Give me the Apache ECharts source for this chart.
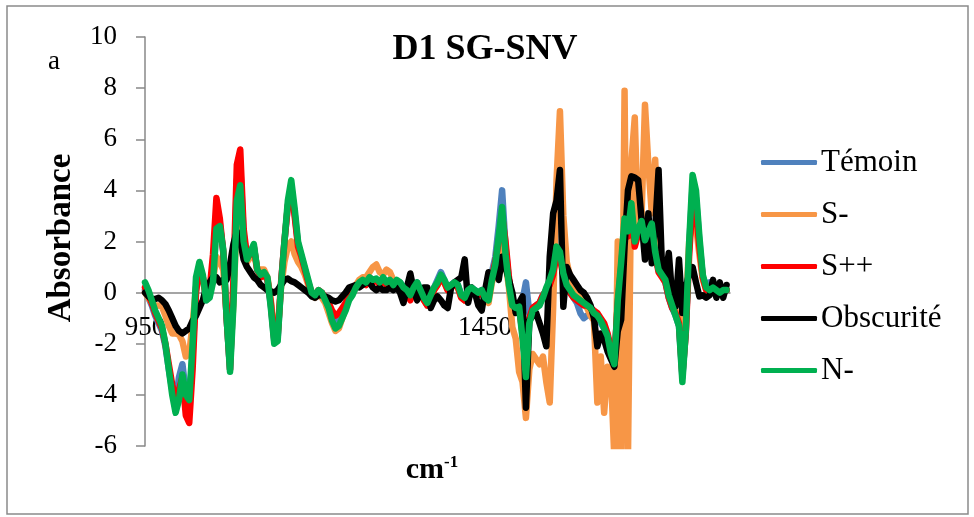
<!DOCTYPE html>
<html>
<head>
<meta charset="utf-8">
<script src="https://cdn.jsdelivr.net/npm/echarts@6/dist/echarts.min.js"></script>
<style>html,body{margin:0;padding:0;background:#fff;}#c{width:974px;height:517px;}</style>
</head>
<body>
<div id="c"></div>
<script>
const wavenumbers = [
950,955,960,965,970,975,980,985,990,995,
1000,1005,1010,1015,1020,1025,1030,1035,1040,1045,
1050,1055,1060,1065,1070,1075,1080,1085,1090,1095,
1100,1105,1110,1115,1120,1125,1130,1135,1140,1145,
1150,1155,1160,1165,1170,1175,1180,1185,1190,1195,
1200,1205,1210,1215,1220,1225,1230,1235,1240,1245,
1250,1255,1260,1265,1270,1275,1280,1285,1290,1295,
1300,1305,1310,1315,1320,1325,1330,1335,1340,1345,
1350,1355,1360,1365,1370,1375,1380,1385,1390,1395,
1400,1405,1410,1415,1420,1425,1430,1435,1440,1445,
1450,1455,1460,1465,1470,1475,1480,1485,1490,1495,
1500,1505,1510,1515,1520,1525,1530,1535,1540,1545,
1550,1555,1560,1565,1570,1575,1580,1585,1590,1595,
1600,1605,1610,1615,1620,1625,1630,1635,1640,1645,
1650,1655,1660,1665,1670,1675,1680,1685,1690,1695,
1700,1705,1710,1715,1720,1725,1730,1735,1740,1745,
1750,1755,1760,1765,1770,1775,1780,1785,1790,1795,
1800,1805];

const temoin = [
0.1,-0.2,-0.5,-0.9,-1.2,-1.5,-2.1,-3.0,-3.8,-4.3,
-3.3,-2.8,-3.9,-4.3,-2.4,0.2,1.1,0.6,-0.3,0.0,
1.0,3.2,2.7,1.6,-1.0,-3.0,0.0,4.4,5.0,2.3,
1.3,1.5,1.8,0.9,0.7,0.8,0.5,-0.5,-1.9,-1.8,
0.3,2.0,3.4,4.1,3.1,1.9,1.4,0.9,0.4,-0.1,
-0.2,0.0,0.0,-0.3,-0.5,-0.9,-1.1,-1.0,-0.8,-0.5,
-0.2,0.0,0.2,0.4,0.5,0.4,0.6,0.5,0.5,0.4,
0.5,0.4,0.5,0.3,0.4,0.4,0.2,0.0,-0.2,0.2,
0.4,0.1,-0.2,-0.5,-0.2,0.2,0.5,0.8,0.5,0.2,
0.3,0.4,0.3,-0.1,-0.2,0.1,0.2,0.1,0.0,0.1,
0.0,-0.1,0.8,1.4,2.6,4.0,1.8,0.5,-0.4,-0.5,
-0.5,-0.3,0.4,-0.8,-0.6,-0.5,-0.4,-0.1,0.1,0.4,
0.8,1.6,1.5,0.7,0.2,0.0,-0.2,-0.4,-0.8,-1.0,
-0.9,-0.8,-0.9,-1.0,-1.2,-1.4,-1.7,-2.3,-2.7,-0.4,
1.1,2.7,2.3,3.3,1.9,2.4,2.6,2.0,2.3,2.6,
1.5,0.9,0.7,0.4,-0.2,-0.6,-0.9,-1.3,-3.3,-1.5,
1.8,4.2,3.7,2.0,0.6,0.3,0.4,0.3,0.2,0.1,
0.1,0.1];

const sMinus = [
0.0,-0.2,-0.4,-0.5,-0.5,-0.55,-0.9,-1.3,-1.6,-1.6,
-1.65,-1.9,-2.5,-2.4,-1.2,0.2,0.9,0.5,-0.2,0.0,
0.5,1.4,1.2,0.9,-0.8,-2.6,-0.4,3.0,3.4,1.8,
1.2,1.4,1.6,0.9,0.9,0.9,0.6,-0.3,-1.5,-1.6,
0.2,1.2,1.8,2.0,1.5,1.2,1.0,0.7,0.3,0.0,
-0.2,-0.1,-0.2,-0.4,-0.8,-1.2,-1.5,-1.4,-1.0,-0.6,
-0.2,0.0,0.3,0.5,0.6,0.6,0.8,1.0,1.1,0.8,
0.7,0.9,0.8,0.5,0.4,0.3,0.1,-0.1,-0.2,0.1,
0.3,0.0,-0.3,-0.5,-0.2,0.1,0.3,0.5,0.4,0.1,
0.2,0.3,0.2,-0.2,-0.3,0.0,0.1,0.0,-0.1,0.0,
-0.3,-0.4,0.4,0.8,1.6,2.6,1.2,0.2,-1.35,-1.8,
-3.1,-3.5,-4.9,-3.0,-2.4,-2.6,-2.8,-2.5,-3.5,-4.3,
-0.6,4.4,7.1,3.0,1.2,0.6,0.2,0.0,-0.2,-0.3,
-0.6,-0.9,-1.1,-4.3,-2.5,-4.7,-2.9,-3.2,-6.5,2.0,
-6.5,7.9,-6.5,5.1,6.85,2.4,3.0,7.35,5.0,3.1,
5.2,1.8,0.9,0.6,0.1,-0.4,-0.7,-1.0,-2.5,-0.8,
2.0,3.0,2.6,1.5,0.5,0.1,0.0,0.2,0.0,0.1,
0.2,0.1];

const sPlusPlus = [
0.2,-0.1,-0.4,-0.8,-1.1,-1.4,-2.0,-2.8,-3.6,-4.2,
-3.8,-3.3,-4.8,-5.1,-3.0,0.0,1.0,0.6,-0.2,0.1,
1.5,3.7,2.9,1.6,-1.0,-3.0,0.5,5.0,5.6,2.5,
1.4,1.5,1.8,0.9,0.6,0.7,0.5,-0.4,-1.8,-1.7,
0.4,2.0,3.4,4.2,3.0,1.8,1.4,0.9,0.4,0.0,
-0.1,0.1,0.0,-0.2,-0.4,-0.7,-0.9,-0.8,-0.6,-0.4,
-0.1,0.0,0.2,0.3,0.4,0.3,0.5,0.4,0.5,0.3,
0.5,0.3,0.4,0.2,0.4,0.3,0.1,0.0,-0.3,0.1,
0.3,0.0,-0.3,-0.5,-0.2,0.1,0.3,0.6,0.4,0.1,
0.2,0.3,0.2,-0.2,-0.3,0.0,0.1,0.0,-0.1,0.0,
-0.1,-0.2,0.6,1.2,2.0,3.0,2.0,0.6,-0.3,-0.5,
-0.6,-1.6,-3.0,-1.0,-0.6,-0.5,-0.4,-0.1,0.1,0.3,
0.7,1.5,1.4,0.6,0.2,0.0,-0.2,-0.3,-0.4,-0.5,
-0.5,-0.6,-0.7,-0.8,-1.0,-1.2,-1.6,-2.2,-2.6,-0.4,
1.0,2.6,2.2,3.2,1.8,2.3,2.6,1.9,2.2,2.5,
1.5,0.8,0.6,0.4,-0.2,-0.6,-0.8,-1.2,-3.2,-1.6,
1.5,3.6,3.2,1.8,0.6,0.1,0.1,0.2,0.1,0.0,
0.1,0.1];

const obscurite = [
0.0,-0.15,-0.25,-0.25,-0.2,-0.3,-0.45,-0.7,-1.0,-1.3,
-1.5,-1.6,-1.5,-1.4,-1.1,-0.9,-0.6,-0.3,0.2,0.4,
0.6,0.6,0.4,0.5,0.5,1.1,1.9,2.4,2.0,1.3,
1.0,0.8,0.6,0.5,0.3,0.2,0.1,0.05,0.0,0.1,
0.3,0.5,0.55,0.45,0.4,0.3,0.2,0.1,0.0,-0.15,
-0.2,-0.1,-0.1,-0.15,-0.2,-0.3,-0.35,-0.3,-0.15,0.0,
0.2,0.25,0.3,0.2,0.3,0.4,0.4,0.2,0.1,0.2,
0.1,0.1,0.2,0.1,0.2,0.0,-0.4,0.2,0.75,0.1,
-0.3,0.0,0.2,0.2,-0.6,-0.3,-0.15,-0.3,-0.5,-0.6,
0.2,0.4,0.5,0.6,1.3,-0.4,0.2,0.0,-0.5,-0.7,
0.1,0.8,0.6,0.9,0.5,1.4,1.0,0.5,0.0,-0.8,
-0.4,-0.15,-4.5,-1.1,-0.9,-0.8,-1.2,-1.6,-2.1,1.4,
3.1,3.6,4.8,-0.55,1.0,0.7,0.5,0.3,0.1,0.0,
-0.2,-0.5,-1.0,-2.1,-1.6,-1.85,-2.3,-2.6,-2.9,-1.5,
-1.05,1.8,4.0,4.55,4.5,4.4,2.85,1.3,3.1,1.15,
2.5,4.8,1.0,0.6,1.55,-0.15,-0.55,1.3,-0.8,0.2,
0.75,1.0,0.4,-0.15,-0.1,-0.2,-0.1,0.5,-0.2,0.4,
-0.2,0.3];

const nMinus = [
0.4,0.1,-0.3,-0.7,-1.0,-1.3,-2.0,-3.0,-4.0,-4.7,
-4.2,-3.2,-4.0,-4.2,-2.0,0.6,1.2,0.7,-0.3,-0.2,
0.4,2.5,2.6,1.7,-1.0,-3.1,-0.5,3.6,4.2,2.0,
1.3,1.6,1.9,0.9,0.7,0.8,0.6,-0.6,-2.0,-1.9,
0.3,2.0,3.6,4.4,3.3,2.0,1.5,1.0,0.5,0.0,
-0.1,0.1,0.0,-0.3,-0.6,-1.1,-1.4,-1.3,-1.0,-0.7,
-0.3,-0.1,0.2,0.4,0.5,0.4,0.6,0.5,0.55,0.4,
0.6,0.4,0.5,0.3,0.5,0.4,0.2,0.1,-0.1,0.2,
0.4,0.1,-0.2,-0.4,-0.1,0.2,0.4,0.7,0.5,0.2,
0.3,0.4,0.3,-0.1,-0.2,0.1,0.2,0.1,0.0,0.1,
-0.2,-0.3,0.5,1.1,2.2,3.35,1.5,0.3,-0.5,-0.6,
-0.55,-1.8,-3.3,-1.2,-0.7,-0.6,-0.5,-0.2,0.2,0.5,
0.9,1.8,1.6,0.75,0.3,0.1,-0.1,-0.2,-0.3,-0.4,
-0.5,-0.6,-0.8,-0.9,-1.1,-1.4,-1.7,-2.4,-2.8,-0.3,
1.2,2.9,2.4,3.5,2.0,2.5,2.8,2.05,2.4,2.7,
1.6,0.9,0.7,0.5,-0.1,-0.5,-0.9,-1.3,-3.5,-1.5,
2.0,4.6,4.0,2.2,0.7,0.2,0.1,0.2,0.1,0.0,
0.1,0.1];

const seriesNames = ['Témoin','S-','S++','Obscurité','N-'];
const seriesColors = ['#4F81BD','#F79646','#FF0000','#000000','#00B050'];
const seriesValues = [temoin, sMinus, sPlusPlus, obscurite, nMinus];
const yTicks = [-6, 10, 2];   // min, max, step
const xTicks = [950, 1810, 500];
const xTickLabels = ['950', '1450'];

const FONT = "'Liberation Serif','Times New Roman',serif";
const chart = echarts.init(document.getElementById('c'), null, {renderer:'canvas'});

const GRID = {left: 145, top: 37, right: 244, bottom: 71};
const plotH = 517 - GRID.top - GRID.bottom;
const zeroOffset = plotH * (0 - yTicks[0]) / (yTicks[1] - yTicks[0]);

const series = seriesNames.map((name, i) => ({
  name: name,
  type: 'line',
  data: wavenumbers.map((w, j) => [w, seriesValues[i][j]]),
  symbol: 'none',
  showSymbol: false,
  clip: true,
  z: 2 + i,
  lineStyle: {color: seriesColors[i], width: 6.5, cap: 'round', join: 'round'},
  itemStyle: {color: seriesColors[i]},
  emphasis: {disabled: true},
  animation: false
}));

chart.setOption({
  animation: false,
  backgroundColor: '#ffffff',
  grid: Object.assign({containLabel: false}, GRID),
  xAxis: {
    type: 'value', min: xTicks[0], max: xTicks[1], interval: xTicks[2],
    position: 'bottom', offset: -zeroOffset,
    axisLine: {onZero: false, lineStyle: {color: '#888888', width: 1.5}},
    axisTick: {show: false},
    splitLine: {show: false},
    axisLabel: {fontFamily: FONT, fontSize: 27, color: '#000', margin: 22, showMaxLabel: false,
      formatter: v => xTickLabels.indexOf(String(v)) >= 0 ? String(v) : ''}
  },
  yAxis: {
    type: 'value', min: yTicks[0], max: yTicks[1], interval: yTicks[2],
    axisLine: {show: true, lineStyle: {color: '#888888', width: 1.5}},
    axisTick: {show: true, length: 9, lineStyle: {color: '#888888', width: 1.5}},
    splitLine: {show: false},
    axisLabel: {fontFamily: FONT, fontSize: 27, color: '#000', margin: 28}
  },
  legend: {
    orient: 'vertical', left: 756, top: 142,
    itemWidth: 56, itemHeight: 5, itemGap: 21,
    icon: 'roundRect',
    textStyle: {fontFamily: FONT, fontSize: 31, color: '#000', lineHeight: 30, padding: [0, 0, 0, -1]},
    data: seriesNames.map((n, i) => ({name: n, icon: 'roundRect', itemStyle: {color: seriesColors[i]}}))
  },
  graphic: [
    {type: 'rect', shape: {x: 7, y: 6, width: 961, height: 508}, style: {fill: 'none', stroke: '#8a8a8a', lineWidth: 1.5}, z: 0, silent: true},
    {type: 'text', x: 485, y: 50, style: {text: 'D1 SG-SNV', font: "bold 36px 'Liberation Serif', serif", fill: '#000', textAlign: 'center', textVerticalAlign: 'middle'}},
    {type: 'text', x: 54, y: 62, style: {text: 'a', font: "27px 'Liberation Serif', serif", fill: '#000', textAlign: 'center', textVerticalAlign: 'middle'}},
    {type: 'text', x: 61, y: 238, rotation: Math.PI / 2, style: {text: 'Absorbance', font: "bold 33px 'Liberation Serif', serif", fill: '#000', textAlign: 'center', textVerticalAlign: 'middle'}},
    {type: 'text', x: 432, y: 470, style: {
      text: '{b|cm}{s|-1}', textAlign: 'center', textVerticalAlign: 'middle',
      rich: {
        b: {fontFamily: FONT, fontWeight: 'bold', fontSize: 30, color: '#000'},
        s: {fontFamily: FONT, fontWeight: 'bold', fontSize: 17, color: '#000', verticalAlign: 'top', padding: [0,0,14,0]}
      }
    }}
  ],
  series: series
});
</script>
</body>
</html>
